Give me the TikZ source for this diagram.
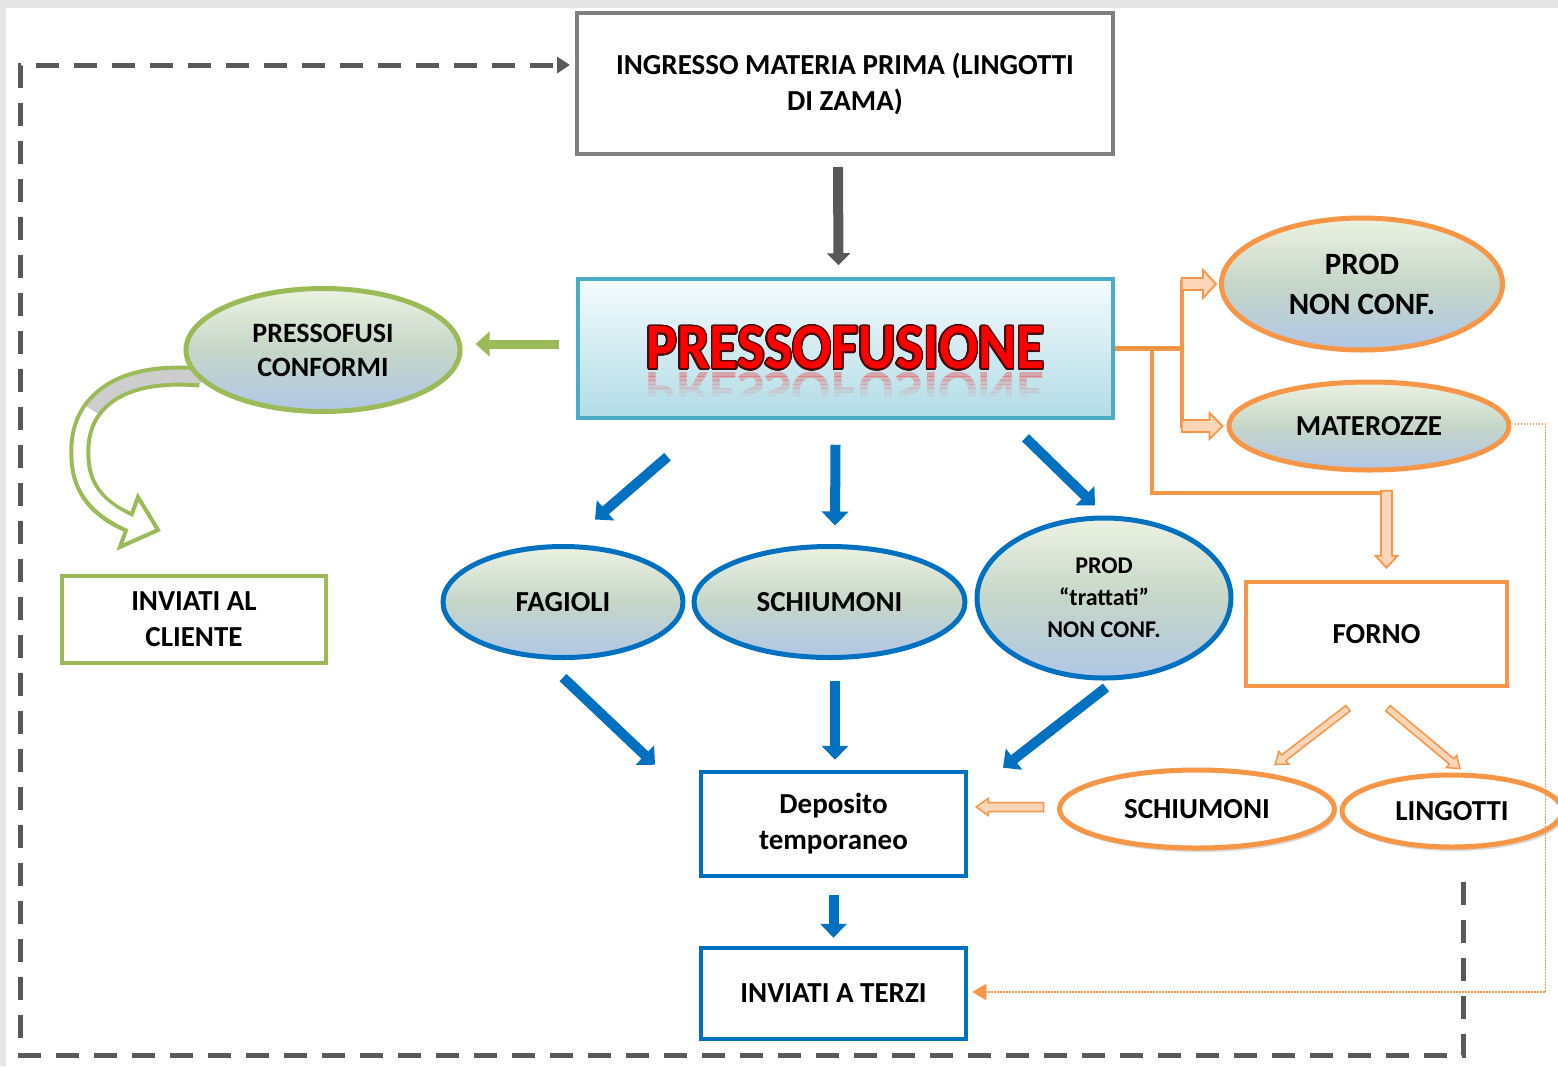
\documentclass[tikz,border=0pt]{standalone}
\usepackage{fontspec}
\setmainfont{Carlito}
\usepackage{graphicx}
\usepackage{contour}
\contourlength{1.4pt}
\contournumber{24}
\usetikzlibrary{shapes.geometric,arrows.meta,calc,shadows}

\definecolor{framegray}{RGB}{230,230,230}
\definecolor{ingrgray}{RGB}{127,127,127}
\definecolor{arrgray}{RGB}{89,89,89}
\definecolor{pfborder}{RGB}{75,172,198}
\definecolor{pftop}{RGB}{244,251,253}
\definecolor{pfbot}{RGB}{178,220,230}
\definecolor{bluel}{RGB}{0,112,192}
\definecolor{greenl}{RGB}{155,187,89}
\definecolor{orangel}{RGB}{247,150,70}
\definecolor{orfill}{RGB}{251,214,184}
\definecolor{eltop}{RGB}{236,242,226}
\definecolor{elmid}{RGB}{198,214,200}
\definecolor{elbot}{RGB}{176,199,230}
\definecolor{outl}{RGB}{70,8,8}
\definecolor{bandgray}{RGB}{205,205,205}

\newcommand{\fsz}[2]{\fontsize{#1}{#2}\selectfont}
% block arrow: [style]{from}{to}{half shaft}{half head}{head length}
\newcommand{\fatarrow}[6][]{%
  \draw[#1] let \p1=($(#3)-(#2)$), \n1={atan2(\y1,\x1)}, \n2={veclen(\x1,\y1)-#6} in
    ($(#2)+(\n1+90:#4)$) -- ($(#2)+(\n1:\n2)+(\n1+90:#4)$) -- ($(#2)+(\n1:\n2)+(\n1+90:#5)$)
    -- (#3) -- ($(#2)+(\n1:\n2)+(\n1-90:#5)$) -- ($(#2)+(\n1:\n2)+(\n1-90:#4)$)
    -- ($(#2)+(\n1-90:#4)$) -- cycle;}

\begin{document}
\begin{tikzpicture}[x=1pt,y=1pt,
  txt/.style={font=\bfseries\fsz{29}{36}, align=center, inner sep=0pt},
  ell/.style={ellipse, txt, line width=5pt, top color=eltop, bottom color=elbot, middle color=elmid},
  wellipse/.style={ellipse, txt, line width=5pt, draw=orangel, fill=white,
    drop shadow={shadow xshift=2pt, shadow yshift=-4pt, opacity=0.3}},
  box/.style={rectangle, txt, line width=4.5pt, fill=white},
  bluearr/.style={line width=10pt, draw=bluel, -{Triangle[length=14pt,width=26pt]}},
  orline/.style={line width=4.5pt, draw=orangel},
  orblk/.style={draw=orangel, line width=1.8pt, fill=orfill, line join=miter},
]
\useasboundingbox (0,0) rectangle (1558,-1066);
\fill[framegray] (0,0) rectangle (1558,-1066);
\fill[white] (6,-8) rectangle (1558,-1066);

% curved green arrow
\draw[greenl, line width=21pt] (200,-377) .. controls (140,-372) and (108,-388) .. (92,-410)
  .. controls (82,-424) and (79,-440) .. (80,-458) .. controls (81,-490) and (100,-510) .. (128,-522);
\draw[greenl, line width=4pt, fill=white, line join=miter] (138,-497) -- (158,-530) -- (120,-547) -- cycle;
\draw[bandgray, line width=13pt] (202,-377) .. controls (140,-372) and (108,-388) .. (92,-410);
\draw[white, line width=13pt, shorten >=-6pt] (92,-410) .. controls (82,-424) and (79,-440) .. (80,-458)
  .. controls (81,-490) and (100,-510) .. (128,-522);

% nodes
\node[box, draw=ingrgray, line width=4pt, minimum width=536pt, minimum height=141pt] (ingr) at (845,-83.5)
  {INGRESSO MATERIA PRIMA (LINGOTTI\\DI ZAMA)};
\node[draw=pfborder, line width=3.5pt, top color=pftop, bottom color=pfbot, minimum width=535pt,
  minimum height=139pt, inner sep=0pt, font=\bfseries\fsz{58}{60}] (press) at (845.5,-348.5)
  {\scalebox{1}[1.12]{\textcolor{red}{\contour{outl}{PRESSOFUSIONE}}}};
\foreach \i/\op in {0/0.28,1/0.22,2/0.17,3/0.12,4/0.08,5/0.04}{
  \begin{scope}
  \clip (600,-372-4*\i) rectangle (1090,-376-4*\i);
  \node[anchor=north, inner sep=0pt, opacity=\op, text=red, font=\bfseries\fsz{58}{60}] (prefl\i) at (845,-372)
    {\scalebox{1}[-1]{PRESSOFUSIONE}};
  \end{scope}
}

\node[ell, draw=greenl, minimum width=274pt, minimum height=123pt, font=\bfseries\fsz{28}{34}] (cfo) at (323,-350)
  {PRESSOFUSI\\CONFORMI};
\node[box, draw=greenl, minimum width=264pt, minimum height=87pt] (cli) at (194,-619.5) {INVIATI AL\\CLIENTE};

\node[ell, draw=bluel, minimum width=240pt, minimum height=111pt] (fag) at (563,-602) {FAGIOLI};
\node[ell, draw=bluel, minimum width=271pt, minimum height=111pt] (sch) at (829.5,-602) {SCHIUMONI};
\node[ell, draw=bluel, minimum width=254pt, minimum height=160pt, font=\bfseries\fsz{24}{32}] (trat) at (1104,-598)
  {PROD\\``trattati''\\NON CONF.};
\node[box, draw=bluel, minimum width=265pt, minimum height=104pt] (dep) at (833.5,-824) {Deposito\\temporaneo};
\node[box, draw=bluel, minimum width=265pt, minimum height=91pt] (terzi) at (833.5,-993.5) {INVIATI A TERZI};

\node[ell, draw=orangel, minimum width=281pt, minimum height=132pt, font=\bfseries\fsz{31}{40}] (pnc) at (1362,-284)
  {PROD\\NON CONF.};
\node[ell, draw=orangel, minimum width=280pt, minimum height=88pt] (mat) at (1369,-426) {MATEROZZE};
\node[box, draw=orangel, minimum width=261pt, minimum height=104pt] (forno) at (1376.5,-634) {FORNO};
\node[wellipse, minimum width=275pt, minimum height=78pt] (sch2) at (1197,-809) {SCHIUMONI};
\node[wellipse, minimum width=220pt, minimum height=72pt] (ling) at (1452,-811) {LINGOTTI};

% grey arrows
\draw[line width=10pt, arrgray, -{Triangle[length=12pt,width=23pt]}]
  ([xshift=-7pt,yshift=-11pt]ingr.south) -- ([xshift=-7pt,yshift=12pt]press.north);
\coordinate (lc) at (20,-1055);
\draw[arrgray, line width=5pt, dash pattern=on 23pt off 15pt, -{Triangle[length=13pt,width=16pt]}]
  ([xshift=11pt,yshift=-32pt]ling.south) |- (lc) |- ([xshift=-5pt,yshift=18.5pt]ingr.west);

% green
\draw[greenl, line width=9pt, -{Triangle[length=14pt,width=24pt]}]
  ([xshift=-17pt,yshift=4.5pt]press.west) -- ([xshift=13pt,yshift=6pt]cfo.east);

% blue
\draw[bluearr] ([xshift=-178pt,yshift=-37pt]press.south) -- ([xshift=32pt,yshift=24.5pt]fag.north);
\draw[bluearr] ([xshift=-10pt,yshift=-25pt]press.south) -- ([xshift=5.5pt,yshift=18.5pt]sch.north);
\draw[bluearr] ([xshift=180pt,yshift=-18pt]press.south) -- ([xshift=-9pt,yshift=10pt]trat.north);
\draw[bluearr] ([yshift=-17.5pt]fag.south) -- ([xshift=-178.5pt,yshift=5pt]dep.north);
\draw[bluearr] ([xshift=5.5pt,yshift=-20.5pt]sch.south) -- ([xshift=1.5pt,yshift=10pt]dep.north);
\draw[bluearr] ([xshift=2pt,yshift=-7pt]trat.south) -- ([xshift=169.5pt,yshift=2pt]dep.north);
\draw[bluearr] ([yshift=-17pt]dep.south) -- ([yshift=8pt]terzi.north);

% orange
\coordinate (oj) at ([xshift=67pt]press.east);
\coordinate (ok) at ([xshift=37pt]press.east);
\draw[orline] (press.east) -- (oj);
\draw[orline] ($(oj |- pnc.west)+(0,4)$) -- ($(oj |- mat.west)+(0,-2)$);
\draw[orline] (ok) |- ([xshift=4pt,yshift=87pt]forno.north);
\fatarrow[orblk]{oj |- pnc.west}{[xshift=-3pt]pnc.west}{6}{14}{13}
\fatarrow[orblk]{oj |- mat.west}{[xshift=-4pt]mat.west}{6}{13}{13}
\fatarrow[orblk]{[xshift=10pt,yshift=89pt]forno.north}{[xshift=10pt,yshift=12pt]forno.north}{5.5}{11}{12}
\fatarrow[orblk, line width=1.5pt]{[xshift=-28.5pt,yshift=-20pt]forno.south}{[xshift=78pt,yshift=3pt]sch2.north}{3.5}{8}{11}
\fatarrow[orblk, line width=1.5pt]{[xshift=11.5pt,yshift=-20pt]forno.south}{[xshift=8pt,yshift=4pt]ling.north}{3.5}{8}{11}
\fatarrow[orblk, line width=1.5pt]{[xshift=-13.5pt,yshift=2pt]sch2.west}{[xshift=8pt,yshift=17pt]dep.east}{4.5}{8.5}{12}
\draw[orangel, line width=1.8pt, dash pattern=on 1.6pt off 1.4pt, -{Triangle[length=14pt,width=16pt]}]
  ([xshift=3pt,yshift=2pt]mat.east) -- ++(31,0) |- ([xshift=4pt,yshift=1.5pt]terzi.east);

\end{tikzpicture}
\end{document}
